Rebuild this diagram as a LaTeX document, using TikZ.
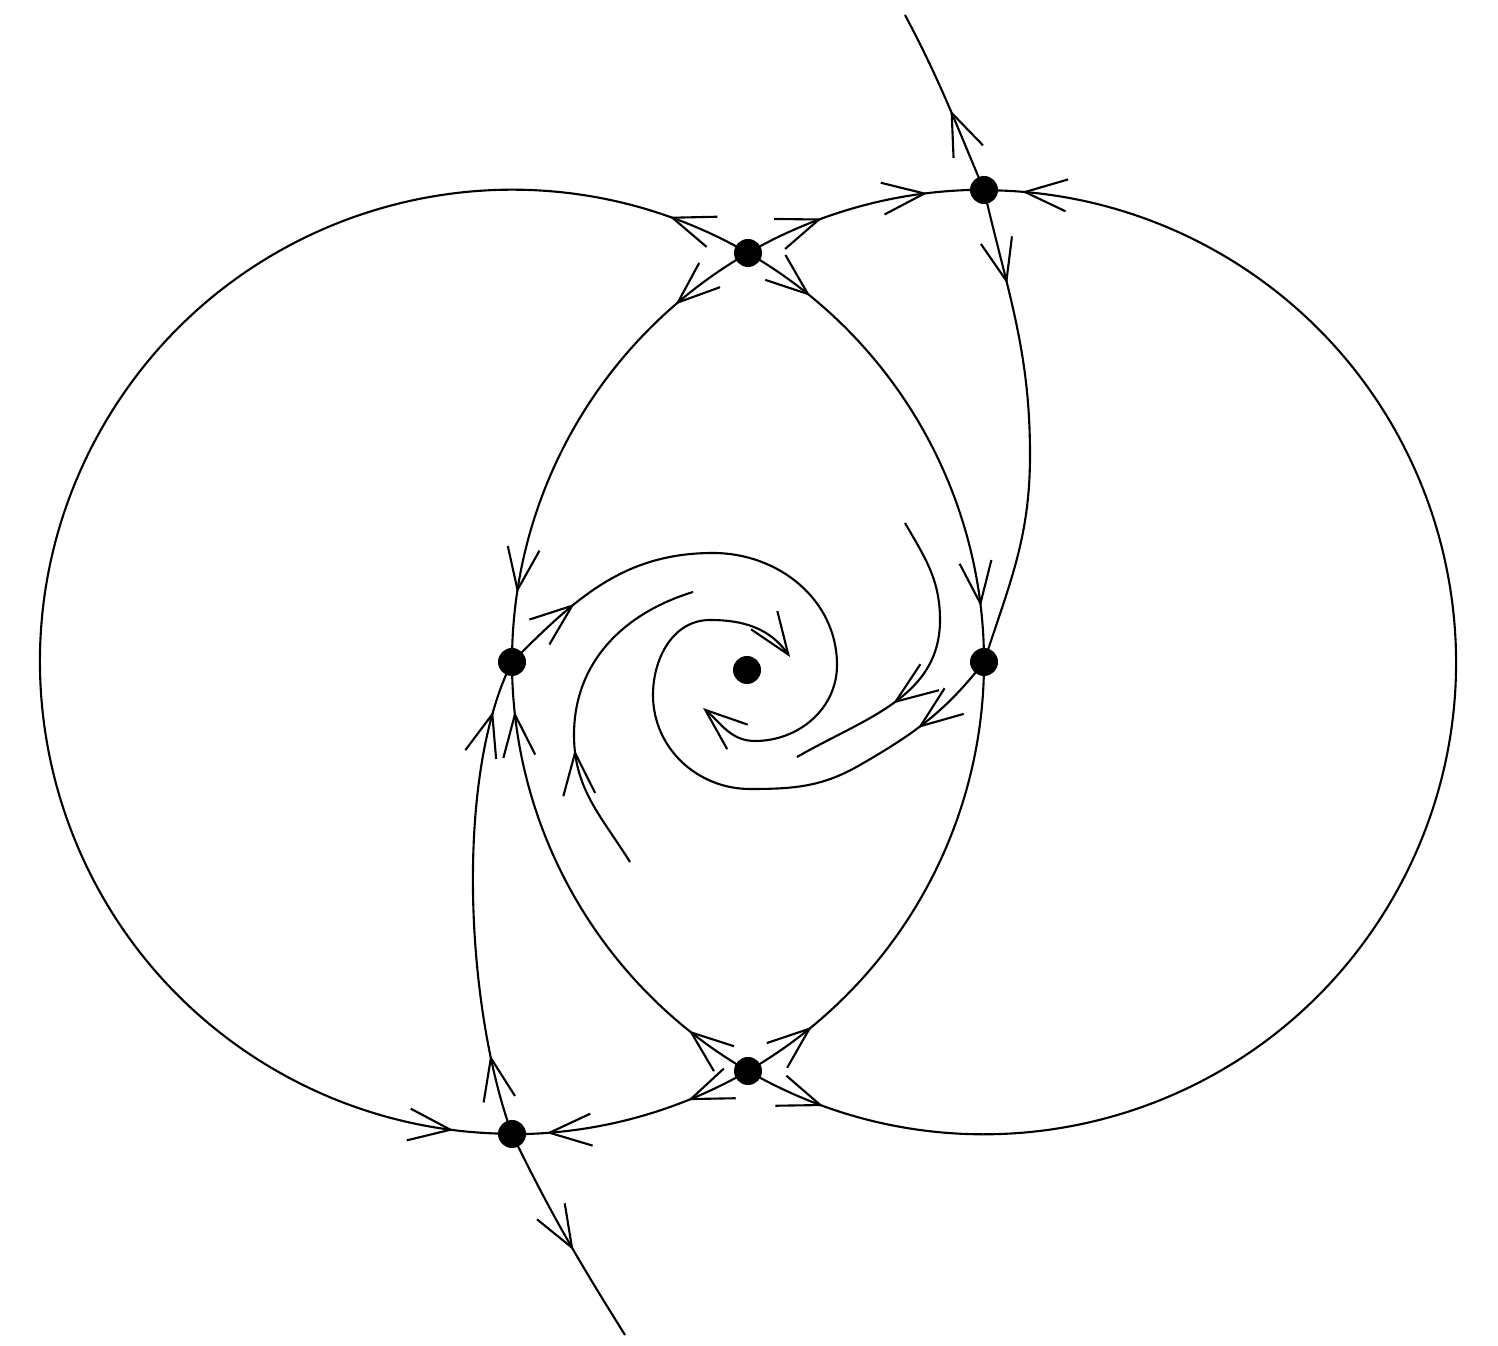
\documentclass[tikz,border=0pt]{standalone}
\usepackage{tikz}
\usetikzlibrary{arrows.meta,decorations.markings}

\begin{document}
\begin{tikzpicture}[
    >={Straight Barb[length=4.2mm,width=3.2mm]},
    line width=0.6pt,
    dot/.style={circle, fill=black, inner sep=0pt, minimum size=0.28cm},
    flow/.style={postaction={decorate},
        decoration={markings, mark=at position #1 with {\arrow{>}}}},
    flowtwo/.style 2 args={postaction={decorate},
        decoration={markings, mark=at position #1 with {\arrow{>}},
            mark=at position #2 with {\arrow{>}}}}
]
    \useasboundingbox (0,0) rectangle (14.98,13.45);
    \def\crad{4.72}

    \node[dot] (L) at (5.12,6.83) {};
    \node[dot] (R) at (9.84,6.83) {};
    \node[dot] (A) at (7.48,10.92) {};
    \node[dot] (B) at (7.48,2.74) {};
    \node[dot] (TR) at (9.84,11.55) {};
    \node[dot] (BL) at (5.12,2.11) {};
    \node[dot] (O) at (7.47,6.75) {};

    \coordinate (topend) at (9.05,13.30);
    \coordinate (botend) at (6.25,0.10);
    \coordinate (s1end) at (7.03,6.37);
    \coordinate (s2end) at (7.90,6.88);
    \coordinate (f1start) at (9.05,8.22);
    \coordinate (f1end) at (7.97,5.88);
    \coordinate (f2start) at (6.30,4.83);
    \coordinate (f2end) at (6.93,7.53);

    \draw[flowtwo={0.05}{0.966}] (A.center) arc[start angle=60, end angle=270, radius=\crad];
    \draw[flowtwo={0.27}{0.86}] (B.center) arc[start angle=300, end angle=270, radius=\crad];
    \draw[flowtwo={0.153}{0.888}] (A.center) arc[start angle=60, end angle=0, radius=\crad];
    \draw[flow=0.157] (B.center) arc[start angle=300, end angle=360, radius=\crad];

    \draw[flowtwo={0.33}{0.77}] (A.center) arc[start angle=120, end angle=90, radius=\crad];
    \draw[flowtwo={0.048}{0.978}] (B.center) arc[start angle=240, end angle=450, radius=\crad];
    \draw[flowtwo={0.18}{0.86}] (A.center) arc[start angle=120, end angle=180, radius=\crad];
    \draw[flowtwo={0.145}{0.90}] (B.center) arc[start angle=240, end angle=180, radius=\crad];

    \draw[flow=0.45] (TR.center) to[out=113, in=-62] (topend);
    \draw[flow=0.2] (TR.center) to[out=-77, in=90] (10.30,8.9) to[out=-90, in=72] (R.center);
    \draw[flow=0.57] (BL.center) to[out=-64, in=122] (botend);
    \draw[flowtwo={0.17}{0.89}] (BL.center) .. controls (4.65,3.4) and (4.55,5.7) .. (L.center);

    \draw[flow=0.14, ->] (L.center) to[out=45, in=180] (7.13,7.92) to[out=0, in=90] (8.37,6.80)
        to[out=-90, in=0] (7.55,6.04) to[out=180, in=-40] (s1end);
    \draw[flow=0.15, ->] (R.center) to[out=232, in=30] (8.60,5.80) to[out=210, in=0] (7.50,5.56)
        to[out=180, in=-90] (6.53,6.50) to[out=90, in=180] (7.10,7.25) to[out=0, in=125] (s2end);
    \draw[flow=0.65] (f1start) to[out=-60, in=90] (9.40,7.25) to[out=-90, in=30] (f1end);
    \draw[flow=0.37] (f2start) to[out=122, in=-90] (5.74,6.10) to[out=90, in=197] (f2end);
\end{tikzpicture}
\end{document}
